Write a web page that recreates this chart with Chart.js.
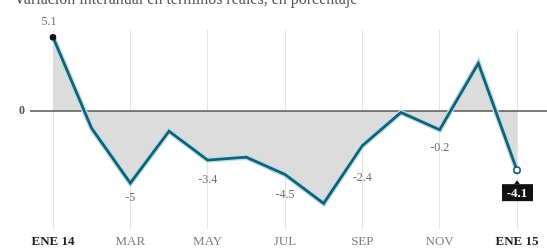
<!DOCTYPE html>
<html>
<head>
<meta charset="utf-8">
<script src="https://cdn.jsdelivr.net/npm/chart.js@4/dist/chart.umd.min.js"></script>
<style>
  html, body { margin: 0; padding: 0; background: #fff; overflow: hidden; }
  #wrap { position: relative; width: 547px; height: 248px; overflow: hidden; }
  #title { position: absolute; left: 14px; top: -9px; font: 16px/16px "Liberation Serif", serif; color: #555; white-space: nowrap; }
  canvas { position: absolute; left: 0; top: 0; }
</style>
</head>
<body>
<div id="wrap">
  <canvas id="c" width="547" height="248"></canvas>
  <div id="title">Variación interanual en términos reales, en porcentaje</div>
</div>
<script>
const months = ["ENE 14", "FEB", "MAR", "ABR", "MAY", "JUN", "JUL", "AGO", "SEP", "OCT", "NOV", "DIC", "ENE 15"];
const values = [5.1, -1.2, -5.0, -1.4, -3.4, -3.2, -4.4, -6.4, -2.4, -0.1, -1.3, 3.3, -4.1];
const valueLabels = ["5.1", null, "-5", null, "-3.4", null, "-4.5", null, "-2.4", null, "-0.2", null, "-4.1"];
const zeroLabel = "0";

const serif = '"Liberation Serif", "DejaVu Serif", serif';
const labelOffsets = [-15, 0, 15, 0, 20, 0, 20, 0, 32, 0, 18, 0, 22];

const overlay = {
  id: 'overlay',
  beforeDatasetsDraw(chart) {
    const ctx = chart.ctx;
    const y0 = chart.scales.y.getPixelForValue(0);
    ctx.save();
    ctx.strokeStyle = '#555';
    ctx.lineWidth = 1.5;
    ctx.beginPath();
    ctx.moveTo(30, y0);
    ctx.lineTo(547, y0);
    ctx.stroke();
    ctx.fillStyle = '#555';
    ctx.font = 'bold 12px ' + serif;
    ctx.textAlign = 'center';
    ctx.textBaseline = 'middle';
    ctx.fillText(zeroLabel, 22, y0);
    ctx.restore();
  },
  afterDatasetsDraw(chart) {
    const ctx = chart.ctx;
    const meta = chart.getDatasetMeta(1);
    ctx.save();
    ctx.textAlign = 'center';
    ctx.textBaseline = 'middle';
    const last = values.length - 1;
    meta.data.forEach((pt, i) => {
      const t = valueLabels[i];
      if (!t) return;
      const x = pt.x, y = pt.y + labelOffsets[i];
      if (i === last) {
        ctx.fillStyle = '#111';
        ctx.fillRect(x - 15, y - 8, 31, 17);
        ctx.beginPath();
        ctx.moveTo(x - 3, y - 8);
        ctx.lineTo(x, y - 12);
        ctx.lineTo(x + 3, y - 8);
        ctx.closePath();
        ctx.fill();
        ctx.fillStyle = '#fff';
        ctx.font = 'bold 13px ' + serif;
        ctx.fillText(t, x, y + 1);
      } else {
        ctx.fillStyle = '#707070';
        ctx.font = '12px ' + serif;
        ctx.fillText(t, i === 0 ? x - 4 : x, y);
      }
    });
    ctx.restore();
  }
};

new Chart(document.getElementById('c'), {
  type: 'line',
  data: {
    labels: months,
    datasets: [
      {
        data: values,
        borderColor: '#aee3f0',
        borderWidth: 5.5,
        pointRadius: 0,
        fill: 'origin',
        backgroundColor: '#dcdcdc',
        tension: 0,
        order: 2
      },
      {
        data: values,
        borderColor: '#1e5d70',
        borderWidth: 2.8,
        tension: 0,
        fill: false,
        pointRadius: values.map((v, i) => (i === 0 ? 2.5 : (i === values.length - 1 ? 3.2 : 0))),
        pointBackgroundColor: values.map((v, i) => (i === 0 ? '#111' : '#fff')),
        pointBorderColor: values.map((v, i) => (i === 0 ? '#111' : '#1e5d70')),
        pointBorderWidth: 1.6,
        order: 1
      }
    ]
  },
  options: {
    responsive: false,
    animation: false,
    layout: { padding: { left: 53, right: 30, top: 30, bottom: -5 } },
    plugins: {
      legend: { display: false },
      tooltip: { enabled: false },
      filler: { drawTime: 'beforeDatasetsDraw' }
    },
    scales: {
      x: {
        offset: false,
        border: { display: false },
        grid: {
          drawTicks: false,
          lineWidth: 1,
          color: (c) => (c.index % 2 === 0 ? '#e4e4e4' : 'rgba(0,0,0,0)')
        },
        ticks: {
          autoSkip: false,
          maxRotation: 0,
          padding: 4,
          callback: (v, i) => (i % 2 === 0 ? months[i] : ''),
          color: (c) => (c.index === 0 || c.index === months.length - 1 ? '#222' : '#808080'),
          font: (c) => ({
            family: serif,
            size: 13,
            weight: (c.index === 0 || c.index === months.length - 1) ? 'bold' : 'normal'
          })
        }
      },
      y: {
        display: false,
        min: -8.2,
        max: 5.6
      }
    }
  },
  plugins: [overlay]
});
</script>
</body>
</html>
